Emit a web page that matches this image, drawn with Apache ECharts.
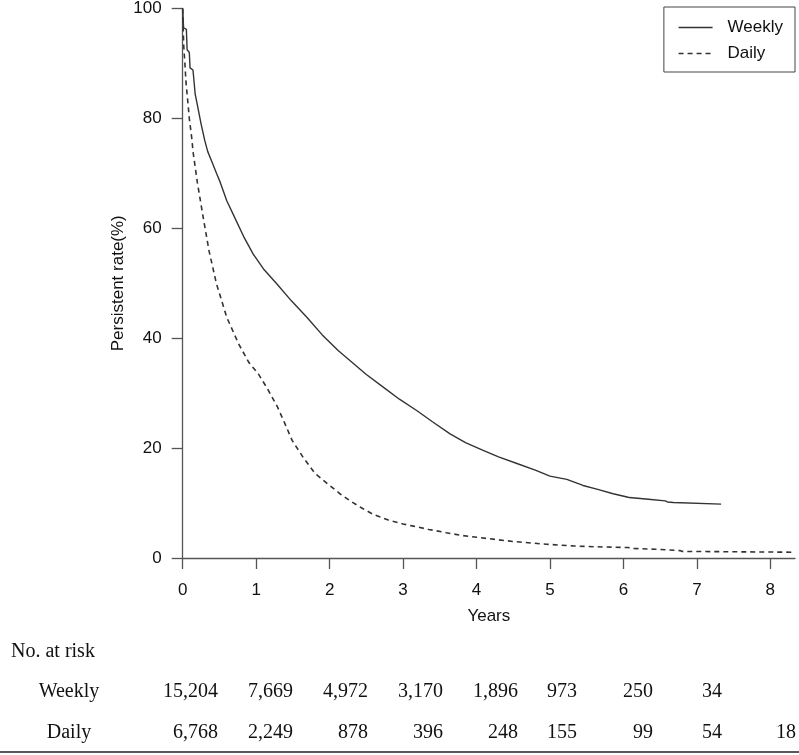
<!DOCTYPE html>
<html>
<head>
<meta charset="utf-8">
<script src="https://cdn.jsdelivr.net/npm/echarts@6/dist/echarts.min.js"></script>
<style>html,body{margin:0;padding:0;background:#fff;}#c{width:799px;height:755px;}</style>
</head>
<body>
<div id="c"></div>
<script>
// ---- data ----
const xTicks = [0, 1, 2, 3, 4, 5, 6, 7, 8];
const yTicks = [0, 20, 40, 60, 80, 100];
const seriesNames = ['Weekly', 'Daily'];
const weeklyCurve = [
  [0,100],[0.01,100],[0.012,96.5],[0.05,96.2],[0.06,92.5],[0.09,92],[0.1,89.2],[0.14,88.8],
  [0.17,84.4],[0.2,82.4],[0.25,79],[0.3,76],[0.34,74],[0.4,72],[0.46,70],[0.51,68.4],
  [0.6,65],[0.71,61.9],[0.83,58.5],[0.96,55.3],[1.1,52.6],[1.28,49.9],[1.48,46.8],[1.69,43.8],
  [1.9,40.6],[2.12,37.7],[2.28,35.9],[2.5,33.4],[2.73,31.1],[2.95,28.9],[3.19,26.8],[3.4,24.8],
  [3.64,22.6],[3.85,21.0],[4.09,19.6],[4.3,18.4],[4.55,17.2],[4.8,16.0],[5.0,14.9],[5.23,14.3],
  [5.45,13.2],[5.65,12.5],[5.86,11.7],[6.05,11.1],[6.08,11.0],[6.09,10.8],[6.34,10.7],[6.36,10.5],
  [6.57,10.4],[6.6,10.2],[6.68,10.1],[6.69,9.8],[7.33,9.8]
];
const dailyCurve = [
  [0,100],[0.005,97],[0.015,93],[0.03,90],[0.045,86.5],[0.07,83],[0.09,80],[0.127,76],[0.14,74],
  [0.2,68.3],[0.28,61.9],[0.36,55.8],[0.46,49.9],[0.6,43.8],[0.76,39],[0.9,35.6],[1.03,33.5],
  [1.15,30.9],[1.29,27.5],[1.39,24.5],[1.49,21.4],[1.64,18.3],[1.8,15.4],[2.0,13.2],[2.15,11.6],
  [2.28,10.4],[2.45,9.0],[2.6,7.9],[2.8,6.9],[3.0,6.2],[3.14,5.8],[3.35,5.2],[3.59,4.6],[3.8,4.1],
  [4.05,3.7],[4.5,3.0],[4.95,2.5],[5.31,2.2],[5.6,2.05],[6.07,1.9],[6.1,1.75],[6.43,1.6],
  [6.45,1.45],[6.77,1.35],[6.8,1.2],[7.34,1.15],[7.36,1.05],[8.34,1.05]
];
const riskTitle = 'No. at risk';
const riskWeekly = ['15,204','7,669','4,972','3,170','1,896','973','250','34',''];
const riskDaily = ['6,768','2,249','878','396','248','155','99','54','18'];

// ---- layout (not data) ----
const riskColRight = [218, 293, 368, 443, 518, 577, 653, 722, 796];
const riskRowY = [692, 733];
const serif = '"Liberation Serif","Times New Roman",serif';
const sans = '"Liberation Sans",Arial,sans-serif';

const chart = echarts.init(document.getElementById('c'));
const graphics = [];
graphics.push({type:'text', x: 11, y: 652, style:{text: riskTitle, font: '20px ' + serif, fill:'#111', verticalAlign:'middle'}});
[riskWeekly, riskDaily].forEach((row, ri) => {
  graphics.push({type:'text', x: 69, y: riskRowY[ri], style:{text: seriesNames[ri], font:'20px ' + serif, fill:'#111', align:'center', verticalAlign:'middle'}});
  row.forEach((s, ci) => {
    if (!s) return;
    graphics.push({type:'text', x: riskColRight[ci], y: riskRowY[ri], style:{text: s, font:'20px ' + serif, fill:'#111', align:'right', verticalAlign:'middle'}});
  });
});
graphics.push({type:'line', shape:{x1:0, y1:752, x2:799, y2:752}, style:{stroke:'#222', lineWidth:1.5}});

chart.setOption({
  animation: false,
  backgroundColor: '#fff',
  grid: {left: 182.7, right: 4, top: 7, bottom: 197, containLabel: false},
  legend: {
    show: true,
    orient: 'vertical', right: 4, top: 7,
    data: seriesNames,
    borderColor: '#444', borderWidth: 1, borderRadius: 0,
    padding: [12, 12, 10, 14],
    itemWidth: 34, itemHeight: 14, itemGap: 9,
    itemStyle: {opacity: 0},
    lineStyle: {width: 1.4},
    textStyle: {fontFamily: sans, fontSize: 17, color: '#111', padding: [0,0,0,10]}
  },
  xAxis: {
    type: 'value', min: 0, max: 8.336,
    name: 'Years', nameLocation: 'middle', nameGap: 50, nameMoveOverlap: false,
    nameTextStyle: {fontFamily: sans, fontSize: 17, color: '#111'},
    axisLine: {show: true, onZero: false, lineStyle: {color: '#555', width: 1.3}},
    axisTick: {show: true, length: 11, lineStyle: {color: '#555', width: 1.3}, customValues: xTicks},
    axisLabel: {fontFamily: sans, fontSize: 17, color: '#111', margin: 24, customValues: xTicks},
    splitLine: {show: false}
  },
  yAxis: {
    type: 'value', min: 0, max: 100, interval: 20,
    name: 'Persistent rate(%)', nameLocation: 'middle', nameGap: 56, nameMoveOverlap: false,
    nameTextStyle: {fontFamily: sans, fontSize: 17, color: '#111'},
    axisLine: {show: true, lineStyle: {color: '#555', width: 1.3}},
    axisTick: {show: true, length: 11, lineStyle: {color: '#555', width: 1.3}},
    axisLabel: {fontFamily: sans, fontSize: 17, color: '#111', margin: 21},
    splitLine: {show: false}
  },
  series: [
    {name: seriesNames[0], type: 'line', data: weeklyCurve, symbol: 'none', smooth: false,
     lineStyle: {color: '#333', width: 1.4, type: 'solid'}, itemStyle: {color: '#333'}},
    {name: seriesNames[1], type: 'line', data: dailyCurve, symbol: 'none', smooth: false,
     lineStyle: {color: '#333', width: 1.6, type: [5, 4]}, itemStyle: {color: '#333'}}
  ],
  graphic: graphics
});
</script>
</body>
</html>
